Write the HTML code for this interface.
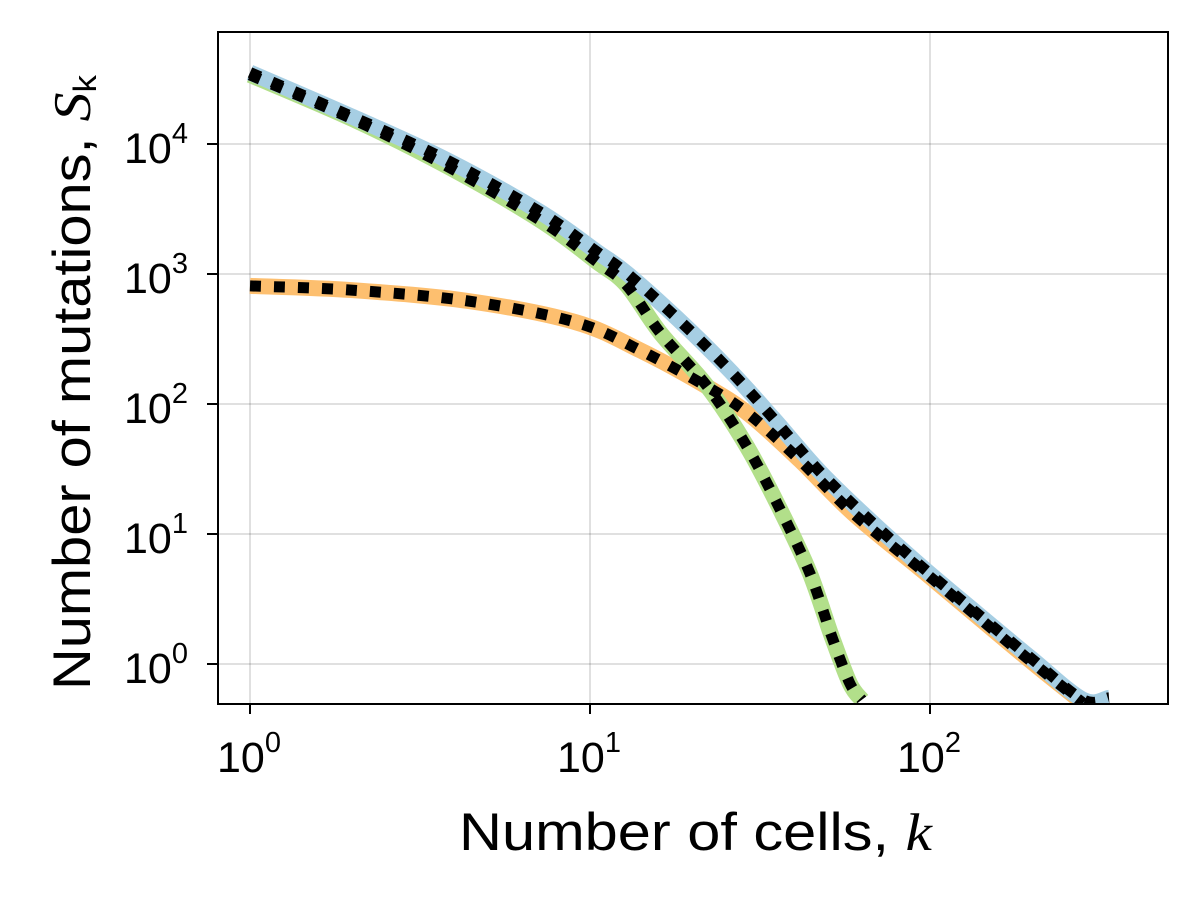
<!DOCTYPE html>
<html><head><meta charset="utf-8"><style>
body{margin:0;background:#fff}
svg{font-family:"Liberation Sans",sans-serif}
</style></head><body>
<svg width="1200" height="900" viewBox="0 0 1200 900">
<defs><clipPath id="pc"><rect x="218" y="32" width="950" height="672"/></clipPath></defs>
<rect x="0" y="0" width="1200" height="900" fill="#fff"/>
<g id="grid"></g>
<g id="series" clip-path="url(#pc)"></g>
<rect x="218" y="32" width="950" height="672" fill="none" stroke="#000" stroke-width="2"/>
<g id="ticks"></g>
<text x="459" y="850" font-size="53" textLength="473" lengthAdjust="spacingAndGlyphs">Number of cells, <tspan font-family="Liberation Serif" font-style="italic">k</tspan></text>
<text transform="translate(90,690) rotate(-90)" font-size="53" textLength="615" lengthAdjust="spacingAndGlyphs">Number of mutations, <tspan font-family="Liberation Serif" font-style="italic">S</tspan><tspan font-size="32" dy="6">k</tspan></text>
</svg>
<script>
const xTicks=[0,1,2];
const yTicks=[0,1,2,3,4];
const blueK=[1,2.01,3.79,7.13,10.5,12.8,18,25.4,34.5,47.5,66.5,95.3,137,198,282,336];
const blueS=[35500,16100,7530,3000,1477,1018,459,189,78,30,12.8,5.5,2.47,1.11,0.53,0.55];
const greenK=[1,2.01,3.79,7.13,10.5,12.8,16.1,22.2,29,36.3,44.3,51.5,58.1,63];
const greenS=[34000,15500,6770,2600,1237,823,352,135,46.7,15.3,5,1.61,0.71,0.53];
const orangeK=[1,2.01,4.38,9.03,14,22.2,29.6,41.4,59.3,95.3,137,198,282];
const orangeS=[810,750,620,427,260,135,82,37,14.5,5.2,2.35,1.05,0.5];
const NS="http://www.w3.org/2000/svg";
function X(k){return 250+340*Math.log10(k);}
function Y(s){return 664-130*Math.log10(s);}
const grid=document.getElementById('grid'),ticks=document.getElementById('ticks'),ser=document.getElementById('series');
function mk(tag,at,p){const e=document.createElementNS(NS,tag);for(const a in at)e.setAttribute(a,at[a]);p.appendChild(e);return e;}
xTicks.forEach(t=>{const x=X(Math.pow(10,t));
 const g=mk('line',{x1:x,x2:x,y1:32,y2:704,stroke:'#000','stroke-opacity':0.12,'stroke-width':2},grid);
 
 
 const tk=mk('line',{x1:x,x2:x,y1:704,y2:714,stroke:'#000','stroke-width':2},ticks);
 
 
 const tx=mk('text',{x:x-33,y:772,'font-size':43},ticks);
 
 
 tx.innerHTML='10<tspan font-size="29" dy="-20">'+t+'</tspan>';
});
yTicks.forEach(t=>{const y=Y(Math.pow(10,t));
 const g=mk('line',{x1:218,x2:1168,y1:y,y2:y,stroke:'#000','stroke-opacity':0.12,'stroke-width':2},grid);
 
 
 const tk=mk('line',{x1:207,x2:218,y1:y,y2:y,stroke:'#000','stroke-width':2},ticks);
 
 
 const tx=mk('text',{x:124,y:y+19,'font-size':43},ticks);
 
 
 tx.innerHTML='10<tspan font-size="29" dy="-20">'+t+'</tspan>';
});
function path(K,S){
 const P=K.map((k,i)=>[X(k),Y(S[i])]);
 let d='M'+P[0][0].toFixed(1)+','+P[0][1].toFixed(1);
 for(let i=0;i<P.length-1;i++){
  const p0=P[Math.max(i-1,0)],p1=P[i],p2=P[i+1],p3=P[Math.min(i+2,P.length-1)];
  const c1=[p1[0]+(p2[0]-p0[0])/6,p1[1]+(p2[1]-p0[1])/6];
  const c2=[p2[0]-(p3[0]-p1[0])/6,p2[1]-(p3[1]-p1[1])/6];
  d+=' C'+c1.map(v=>v.toFixed(1)).join(',')+' '+c2.map(v=>v.toFixed(1)).join(',')+' '+p2.map(v=>v.toFixed(1)).join(',');
 }
 return d;
}
const series=[['orange',orangeK,orangeS,'#fdbf6f'],['green',greenK,greenS,'#b2df8a'],['blue',blueK,blueS,'#a6cee3']];
series.forEach(s=>{const p=mk('path',{d:path(s[1],s[2]),fill:'none',stroke:s[3],'stroke-width':16,'stroke-linejoin':'round'},ser);
 
 });
series.forEach(s=>{const p=mk('path',{d:path(s[1],s[2]),fill:'none',stroke:'#000','stroke-width':11,'stroke-dasharray':'11 13','stroke-linejoin':'round'},ser);
 
 });
</script>
</body></html>
